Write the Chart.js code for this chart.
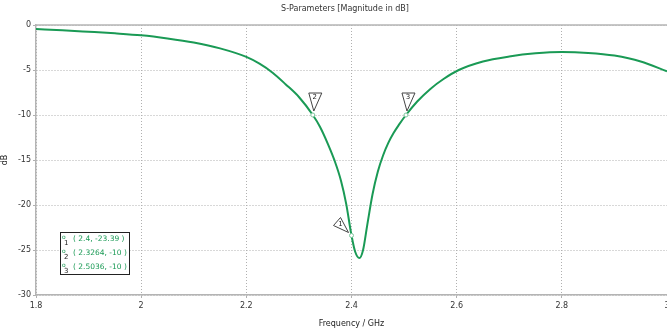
<!DOCTYPE html>
<html>
<head>
<meta charset="utf-8">
<script src="https://cdn.jsdelivr.net/npm/chart.js@4.4.1/dist/chart.umd.min.js"></script>
<style>
    html, body { margin: 0; padding: 0; background: #fff; }
    #wrap { width: 667px; height: 329px; position: relative; }
</style>
</head>
<body>
<div id="wrap"><canvas id="sparamChart"></canvas></div>
<script>
// S11 curve (GHz, dB)
const freqGHz = [1.80, 1.85, 1.90, 1.95, 2.00, 2.05, 2.10, 2.15, 2.20, 2.225, 2.25, 2.275, 2.30, 2.3264,
    2.34, 2.355, 2.368, 2.38, 2.39, 2.40, 2.407, 2.415, 2.422, 2.43, 2.44, 2.45, 2.46, 2.47, 2.48, 2.49, 2.5036,
    2.525, 2.55, 2.575, 2.604, 2.65, 2.70, 2.75, 2.80, 2.85, 2.90, 2.95, 3.00];
const magDb = [-0.45, -0.58, -0.75, -0.93, -1.15, -1.5, -1.95, -2.6, -3.55, -4.3, -5.3, -6.6, -8.0, -10.0,
    -11.3, -13.2, -15.1, -17.3, -19.9, -23.39, -25.2, -25.9, -25.0, -22.2, -18.8, -16.3, -14.5, -13.1, -12.0, -11.1, -10.0,
    -8.5, -7.1, -6.0, -5.0, -4.05, -3.5, -3.15, -3.0, -3.1, -3.4, -4.05, -5.15];

// markers
const markerIds = ['1', '2', '3'];
const markerX = [2.4, 2.3264, 2.5036];
const markerY = [-23.39, -10, -10];
const markerText = ['( 2.4, -23.39 )', '( 2.3264, -10 )', '( 2.5036, -10 )'];

const xTicks = [1.8, 2, 2.2, 2.4, 2.6, 2.8, 3];
const yTicks = [0, -5, -10, -15, -20, -25, -30];

const green = '#1a9a55';
const fontFam = '"DejaVu Sans", sans-serif';

const curve = freqGHz.map((f, i) => ({ x: f, y: magDb[i] }));

// draw title, frame, marker flags and marker table
const decorPlugin = {
    id: 'decor',
    afterDraw(chart) {
        const ctx = chart.ctx;
        const area = chart.chartArea;
        const xs = chart.scales.x, ys = chart.scales.y;
        ctx.save();

        // title
        ctx.fillStyle = '#333';
        ctx.font = '8px ' + fontFam;
        ctx.textAlign = 'center';
        ctx.textBaseline = 'middle';
        ctx.fillText('S-Parameters [Magnitude in dB]', 345, 9);

        // top frame line
        ctx.strokeStyle = '#b4b4b4';
        ctx.lineWidth = 1.5;
        ctx.beginPath();
        ctx.moveTo(area.left, area.top);
        ctx.lineTo(area.right, area.top);
        ctx.stroke();

        // marker points and flags
        markerIds.forEach((id, i) => {
            const px = xs.getPixelForValue(markerX[i]);
            const py = ys.getPixelForValue(markerY[i]);
            ctx.strokeStyle = '#7fc79f';
            ctx.lineWidth = 1;
            ctx.fillStyle = '#fff';
            ctx.beginPath();
            ctx.arc(px, py, 2, 0, Math.PI * 2);
            ctx.fill();
            ctx.stroke();

            let tri, tx, ty;
            if (id === '1') {
                tri = [[px - 18, py - 10], [px - 11, py - 18], [px - 3, py - 3]];
                tx = px - 11; ty = py - 11;
            } else {
                tri = [[px - 4, py - 22], [px + 9, py - 22], [px + 1, py - 4]];
                tx = px + 2; ty = py - 18;
            }
            ctx.strokeStyle = '#444';
            ctx.fillStyle = '#fff';
            ctx.lineWidth = 1;
            ctx.beginPath();
            ctx.moveTo(tri[0][0], tri[0][1]);
            ctx.lineTo(tri[1][0], tri[1][1]);
            ctx.lineTo(tri[2][0], tri[2][1]);
            ctx.closePath();
            ctx.fill();
            ctx.stroke();
            ctx.fillStyle = '#222';
            ctx.font = '7px ' + fontFam;
            ctx.textAlign = 'center';
            ctx.textBaseline = 'middle';
            ctx.fillText(id, tx, ty);
        });

        // marker table
        const bx = 60, by = 232, bw = 69, bh = 42;
        ctx.fillStyle = '#fff';
        ctx.fillRect(bx, by, bw, bh);
        ctx.strokeStyle = '#222';
        ctx.lineWidth = 1;
        ctx.strokeRect(bx + 0.5, by + 0.5, bw, bh);
        markerIds.forEach((id, i) => {
            const ly = by + 7 + i * 14;
            ctx.fillStyle = green;
            ctx.font = '6px ' + fontFam;
            ctx.textAlign = 'left';
            ctx.textBaseline = 'middle';
            ctx.fillText('o', bx + 2, ly - 2);
            ctx.fillStyle = '#222';
            ctx.font = '7px ' + fontFam;
            ctx.fillText(id, bx + 4, ly + 4);
            ctx.fillStyle = green;
            ctx.font = '7.5px ' + fontFam;
            ctx.fillText(markerText[i], bx + 13, ly);
        });
        ctx.restore();
    }
};

new Chart(document.getElementById('sparamChart'), {
    type: 'scatter',
    data: {
        datasets: [{
            data: curve,
            showLine: true,
            borderColor: green,
            borderWidth: 2,
            pointRadius: 0,
            cubicInterpolationMode: 'monotone',
            fill: false
        }]
    },
    options: {
        responsive: true,
        maintainAspectRatio: false,
        animation: false,
        layout: { padding: { top: 25, right: 0, left: 0, bottom: 0 } },
        plugins: {
            legend: { display: false },
            title: { display: false },
            tooltip: { enabled: false }
        },
        scales: {
            x: {
                type: 'linear',
                min: 1.8,
                max: 3,
                afterBuildTicks: (s) => { s.ticks = xTicks.map(v => ({ value: v })); },
                afterFit: (s) => { s.height = 34; s.paddingLeft = 0; s.paddingRight = 0; },
                border: { color: '#b4b4b4', width: 1.5, dash: [1, 2] },
                grid: { color: '#b0b0b0', tickLength: 3, lineWidth: 1 },
                ticks: {
                    color: '#333',
                    padding: 3,
                    maxRotation: 0,
                    font: { family: fontFam, size: 8 },
                    callback: (v) => String(Math.round(v * 10) / 10)
                },
                title: {
                    display: true,
                    text: 'Frequency / GHz',
                    color: '#222',
                    padding: { top: 2, bottom: 0 },
                    font: { family: fontFam, size: 8 }
                }
            },
            y: {
                min: -30,
                max: 0,
                afterBuildTicks: (s) => { s.ticks = yTicks.map(v => ({ value: v })); },
                afterFit: (s) => { s.width = 36; s.paddingTop = 0; s.paddingBottom = 0; },
                border: { color: '#b4b4b4', width: 1.5, dash: [1, 2] },
                grid: { color: '#b0b0b0', tickLength: 3, lineWidth: 1 },
                ticks: {
                    color: '#333',
                    padding: 2,
                    font: { family: fontFam, size: 8 }
                },
                title: {
                    display: true,
                    text: 'dB',
                    color: '#222',
                    padding: { top: 0, bottom: 2 },
                    font: { family: fontFam, size: 8 }
                }
            }
        }
    },
    plugins: [decorPlugin]
});
</script>
</body>
</html>
